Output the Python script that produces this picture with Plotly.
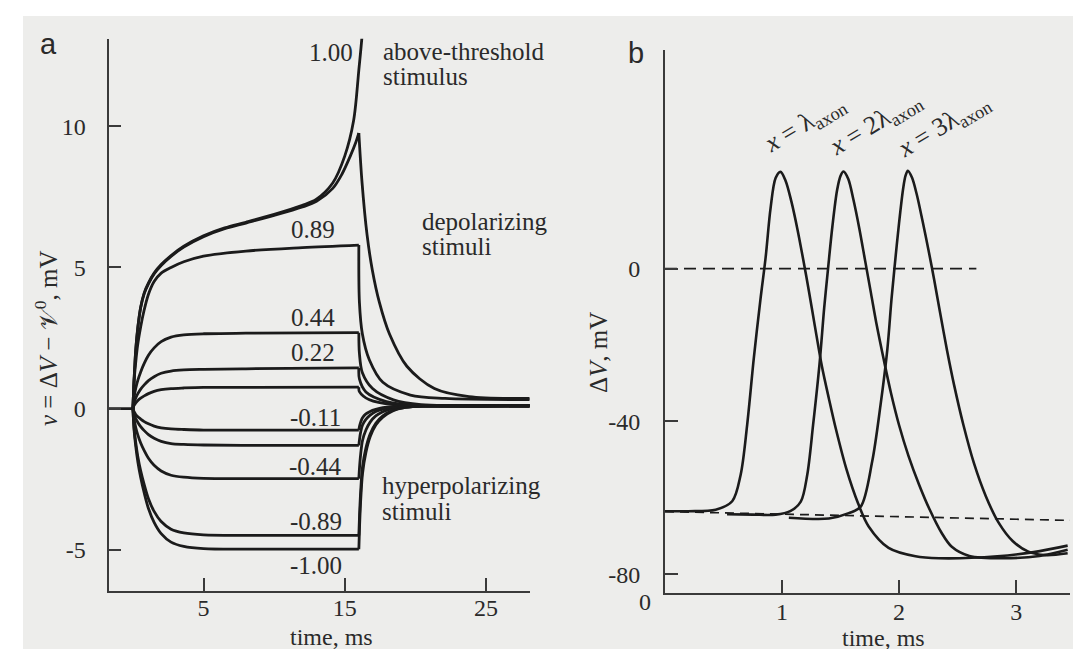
import plotly.graph_objects as go

W, H = 1081, 649

# ---------------- Panel a: membrane response to current steps ----------------
STIM_END = 16.0
baseline_t = [-1.73, 0.0]
baseline_v = [0.0, 0.0]

# common time grid (ms) used while the stimulus is on (small-signal curves)
t_on = [0, 0.08, 0.2, 0.35, 0.55, 0.8, 1.1, 1.5, 2.0, 2.7, 3.6, 5.0, 8.0, 16.0]
m100_on_v = [0, -0.75, -1.34, -1.89, -2.44, -2.99, -3.54, -4.03, -4.43, -4.73, -4.88, -4.96, -4.98, -4.98]
m089_on_v = [0, -0.67, -1.21, -1.71, -2.20, -2.69, -3.19, -3.64, -4.00, -4.27, -4.40, -4.47, -4.49, -4.49]
m044_on_v = [0, -0.37, -0.67, -0.94, -1.22, -1.49, -1.76, -2.01, -2.21, -2.36, -2.43, -2.47, -2.48, -2.48]
m022_on_v = [0, -0.20, -0.35, -0.49, -0.64, -0.78, -0.92, -1.05, -1.16, -1.24, -1.27, -1.29, -1.30, -1.30]
m011_on_v = [0, -0.11, -0.21, -0.29, -0.37, -0.46, -0.54, -0.62, -0.68, -0.72, -0.74, -0.76, -0.76, -0.76]
p011_on_v = [0, 0.11, 0.20, 0.29, 0.37, 0.45, 0.53, 0.61, 0.67, 0.71, 0.73, 0.75, 0.75, 0.76]
p022_on_v = [0, 0.21, 0.38, 0.53, 0.69, 0.84, 0.99, 1.13, 1.25, 1.33, 1.37, 1.39, 1.41, 1.44]
p044_on_v = [0, 0.40, 0.72, 1.01, 1.30, 1.60, 1.89, 2.15, 2.37, 2.53, 2.61, 2.65, 2.67, 2.69]

p089_on_t = [0, 0.08, 0.2, 0.35, 0.55, 0.8, 1.1, 1.5, 2.0, 2.7, 3.6, 5.0, 8.0, 12.0, 16.0]
p089_on_v = [0, 0.95, 1.65, 2.30, 2.90, 3.50, 4.05, 4.50, 4.80, 5.00, 5.20, 5.40, 5.58, 5.70, 5.79]

p096_on_t = [0, 0.08, 0.2, 0.35, 0.55, 0.8, 1.1, 1.5, 2.0, 2.7, 3.6, 5.0, 6.5, 8.0, 10.0, 12.0, 13.0, 14.15, 14.8, 15.4, 15.8, 16.0]
p096_on_v = [0, 0.98, 2.07, 2.87, 3.57, 4.07, 4.42, 4.77, 5.07, 5.39, 5.72, 6.09, 6.37, 6.57, 6.84, 7.14, 7.34, 7.80, 8.30, 8.95, 9.45, 9.76]

p100_t = [0, 0.08, 0.2, 0.35, 0.55, 0.8, 1.1, 1.5, 2.0, 2.7, 3.6, 5.0, 6.5, 8.0, 10.0, 12.0, 13.0, 14.15, 15.0, 15.63, 16.0, 16.26, 16.45]
p100_v = [0, 1.00, 2.10, 2.90, 3.60, 4.10, 4.45, 4.80, 5.10, 5.42, 5.75, 6.12, 6.40, 6.60, 6.88, 7.20, 7.42, 7.99, 8.94, 10.20, 12.00, 13.42, 15.50]

# after the stimulus ends
t_off_hyper = [16.0, 16.05, 16.13, 16.26, 16.5, 16.8, 17.2, 17.7, 18.4, 19.3, 20.5, 28.1]
m100_off_v = [-4.98, -4.17, -3.25, -2.30, -1.55, -1.00, -0.58, -0.30, -0.08, 0.04, 0.09, 0.10]
m089_off_v = [-4.49, -3.77, -2.93, -2.07, -1.40, -0.90, -0.52, -0.26, -0.06, 0.04, 0.09, 0.10]
m044_off_v = [-2.48, -2.07, -1.61, -1.13, -0.76, -0.48, -0.26, -0.11, 0.01, 0.07, 0.09, 0.10]
m022_off_v = [-1.30, -1.08, -0.83, -0.58, -0.38, -0.23, -0.10, -0.02, 0.05, 0.08, 0.10, 0.10]
m011_off_v = [-0.76, -0.62, -0.48, -0.32, -0.19, -0.10, -0.03, 0.03, 0.07, 0.09, 0.10, 0.10]

p096_off_t = [16.0, 16.22, 16.58, 16.95, 17.45, 18.17, 19.4, 21.35, 23.8, 28.1]
p096_off_v = [9.76, 8.05, 6.16, 4.92, 3.77, 2.64, 1.50, 0.71, 0.42, 0.36]
p089_off_t = [16.0, 16.04, 16.25, 16.74, 17.7, 19.65, 22.1, 28.1]
p089_off_v = [5.79, 3.77, 2.64, 1.73, 0.93, 0.48, 0.36, 0.32]
p044_off_t = [16.0, 16.04, 16.25, 16.97, 18.45, 20.4, 28.1]
p044_off_v = [2.69, 1.96, 1.27, 0.71, 0.31, 0.14, 0.10]
p022_off_t = [16.0, 16.04, 16.5, 17.95, 19.9, 28.1]
p022_off_v = [1.44, 1.05, 0.59, 0.25, 0.12, 0.09]
p011_off_t = [16.0, 16.04, 16.75, 18.45, 28.1]
p011_off_v = [0.76, 0.60, 0.31, 0.14, 0.09]

a_xticks = [5, 15, 25]
a_xticktext = ["5", "15", "25"]
a_yticks = [10, 5, 0, -5]
a_yticktext = ["10", "5", "0", "-5"]

# curve labels (stimulus strength) and where they sit
a_labels = ["1.00", "0.89", "0.44", "0.22", "-0.11", "-0.44", "-0.89", "-1.00"]
a_label_t = [15.76, 12.74, 12.74, 12.74, 12.93, 12.93, 12.93, 12.93]
a_label_v = [12.61, 6.34, 3.22, 1.98, -0.30, -2.05, -4.00, -5.54]

# ---------------- Panel b: propagating action potential ----------------
c1_t = [0, 0.2, 0.433, 0.574, 0.646, 0.702, 0.759, 0.817, 0.859, 0.902, 0.945, 0.987, 1.03, 1.08, 1.13,
        1.18, 1.23, 1.28, 1.34, 1.40, 1.46, 1.55, 1.65, 1.74, 1.91, 2.14, 2.34, 2.84, 3.15, 3.44]
c1_v = [-63.5, -63.5, -63.1, -60.9, -54.0, -40.9, -23.4, -7.7, 2.7, 15.8, 23.7, 25.3, 23.0, 17.5, 10.5,
        2.5, -6.0, -15.0, -25.5, -34.0, -42.0, -52.5, -61.5, -67.5, -73.1, -75.3, -75.8, -75.3, -74.2, -72.5]
c2_t = [0.53, 0.75, 0.945, 1.07, 1.16, 1.215, 1.265, 1.32, 1.36, 1.393, 1.43, 1.47, 1.50, 1.525, 1.565, 1.61,
        1.66, 1.71, 1.76, 1.81, 1.87, 1.93, 2.00, 2.08, 2.17, 2.26, 2.36, 2.45, 2.60, 2.89, 3.2, 3.44]
c2_v = [-64.3, -64.4, -64.4, -63.5, -61.0, -54.0, -41.0, -25.0, -10.3, 0.0, 11.0, 20.5, 24.3, 25.4, 23.5, 18.0,
        10.5, 2.0, -6.5, -15.0, -24.0, -32.5, -41.0, -49.0, -56.5, -63.0, -69.0, -72.8, -75.2, -75.8, -75.2, -73.6]
c3_t = [1.058, 1.40, 1.57, 1.672, 1.77, 1.84, 1.90, 1.935, 1.96, 2.00, 2.035, 2.055, 2.075, 2.11, 2.15, 2.20,
        2.25, 2.30, 2.35, 2.41, 2.47, 2.55, 2.64, 2.74, 2.85, 2.97, 3.10, 3.25, 3.44]
c3_v = [-65.2, -65.4, -64.0, -62.3, -50.5, -36.0, -21.0, -8.0, 0.0, 12.0, 21.0, 24.3, 25.6, 23.8, 19.5, 12.5,
        5.0, -3.0, -11.5, -21.5, -30.5, -41.0, -51.0, -59.5, -66.5, -71.3, -74.0, -75.0, -74.5]

zero_line_t = [0, 2.66]
zero_line_v = [0, 0]
rest_line_t = [0, 3.46]
rest_line_v = [-63.6, -65.9]

b_labels = ["<i>x</i> = λ<sub>axon</sub>", "<i>x</i> = 2λ<sub>axon</sub>", "<i>x</i> = 3λ<sub>axon</sub>"]
b_label_t = [1.20, 1.80, 2.38]
b_label_v = [37.7, 37.8, 37.4]

b_xticks = [1, 2, 3]
b_xticktext = ["1", "2", "3"]
b_yticks = [0, -40, -80]
b_yticktext = ["0", "-40", "-80"]

# ---------------- styling ----------------
INK = "#1b1b1b"
AXC = "#3a3a3a"
TXT = "#2a2a2a"
PAPER = "#ededeb"
SERIF = "Liberation Serif, DejaVu Serif, serif"
SANS = "Liberation Sans, Arial, sans-serif"


def px(x):
    return x / W


def py(y):
    return (H - y) / H


fig = go.Figure()

line_a = dict(color=INK, width=2.8, shape="spline", smoothing=0.9)
line_b = dict(color=INK, width=2.6, shape="spline", smoothing=0.9)


def add(t, v, line, xa, ya):
    fig.add_trace(go.Scatter(x=t, y=v, mode="lines", line=line, xaxis=xa, yaxis=ya,
                             hoverinfo="skip", showlegend=False))


add(baseline_t, baseline_v, dict(color=INK, width=2.8), "x", "y")
for on_v, off_v in [(m100_on_v, m100_off_v), (m089_on_v, m089_off_v), (m044_on_v, m044_off_v),
                    (m022_on_v, m022_off_v), (m011_on_v, m011_off_v)]:
    add(t_on, on_v, line_a, "x", "y")
    add(t_off_hyper, off_v, line_a, "x", "y")
for on_t, on_v, off_t, off_v in [(t_on, p011_on_v, p011_off_t, p011_off_v),
                                 (t_on, p022_on_v, p022_off_t, p022_off_v),
                                 (t_on, p044_on_v, p044_off_t, p044_off_v),
                                 (p089_on_t, p089_on_v, p089_off_t, p089_off_v),
                                 (p096_on_t, p096_on_v, p096_off_t, p096_off_v)]:
    add(on_t, on_v, line_a, "x", "y")
    add(off_t, off_v, line_a, "x", "y")
add(p100_t, p100_v, line_a, "x", "y")

add(zero_line_t, zero_line_v, dict(color=INK, width=1.7, dash="12px,7px"), "x2", "y2")
add(rest_line_t, rest_line_v, dict(color=INK, width=1.7, dash="9px,6px"), "x2", "y2")
for t, v in [(c1_t, c1_v), (c2_t, c2_v), (c3_t, c3_v)]:
    add(t, v, line_b, "x2", "y2")

axis_common = dict(showline=True, linecolor=AXC, linewidth=1.8, ticks="inside", ticklen=13,
                   tickwidth=1.8, tickcolor=AXC, showgrid=False, zeroline=False,
                   tickfont=dict(family=SERIF, size=24, color=TXT))

fig.update_layout(
    width=W, height=H, autosize=False,
    margin=dict(l=0, r=0, t=0, b=0),
    paper_bgcolor="#ffffff", plot_bgcolor="rgba(0,0,0,0)",
    showlegend=False,
    xaxis=dict(domain=[px(100.5), px(521.7)], range=[-1.73, 28.1], anchor="y",
               tickvals=a_xticks, ticktext=a_xticktext, ticklabelstandoff=-6, **axis_common),
    yaxis=dict(domain=[py(583), py(30.7)], range=[-6.46, 13.1], anchor="x",
               tickvals=a_yticks, ticktext=a_yticktext, ticklabelstandoff=16, **axis_common),
    xaxis2=dict(domain=[px(657), px(1062)], range=[0, 3.46], anchor="y2",
                tickvals=b_xticks, ticktext=b_xticktext, ticklabelstandoff=-4, **axis_common),
    yaxis2=dict(domain=[py(585), py(41.7)], range=[-84.9, 57.26], anchor="x2",
                tickvals=b_yticks, ticktext=b_yticktext, ticklabelstandoff=18, **axis_common),
    shapes=[dict(type="rect", xref="paper", yref="paper", x0=px(15), x1=px(1075), y0=0, y1=py(8),
                 fillcolor=PAPER, line=dict(width=0), layer="below")],
)

ann = []
tf = dict(family=SERIF, size=25, color=TXT)
# stimulus strength labels
for i, (lab, t, v) in enumerate(zip(a_labels, a_label_t, a_label_v)):
    ann.append(dict(x=t, y=v, xref="x", yref="y", text=lab, showarrow=False, font=tf,
                    xanchor="right" if i == 0 else "center", yanchor="middle"))
# group descriptions
for txt, t, v in [("above-threshold", 17.6, 12.65), ("stimulus", 17.6, 11.77),
                  ("depolarizing", 20.31, 6.62), ("stimuli", 20.31, 5.73),
                  ("hyperpolarizing", 17.48, -2.71), ("stimuli", 17.48, -3.66)]:
    ann.append(dict(x=t, y=v, xref="x", yref="y", text=txt, showarrow=False, font=tf,
                    xanchor="left", yanchor="middle"))
# rotated position labels in panel b
for lab, t, v in zip(b_labels, b_label_t, b_label_v):
    ann.append(dict(x=t, y=v, xref="x2", yref="y2", text=lab, showarrow=False,
                    font=dict(family=SERIF, size=26, color=TXT), textangle=-31,
                    xanchor="center", yanchor="middle"))
# axis titles
ann.append(dict(x=px(323), y=py(629), xref="paper", yref="paper", text="time, ms", showarrow=False,
                font=dict(family=SERIF, size=24, color=TXT), xanchor="center", yanchor="middle"))
ann.append(dict(x=px(875), y=py(630), xref="paper", yref="paper", text="time, ms", showarrow=False,
                font=dict(family=SERIF, size=24, color=TXT), xanchor="center", yanchor="middle"))
ann.append(dict(x=px(38), y=py(331), xref="paper", yref="paper",
                text="<i>v</i> = Δ<i>V</i> − 𝒱<sup>0</sup>, mV", showarrow=False, font=tf,
                textangle=-90, xanchor="center", yanchor="middle"))
ann.append(dict(x=px(590), y=py(345), xref="paper", yref="paper", text="Δ<i>V</i>, mV",
                showarrow=False, font=tf, textangle=-90, xanchor="center", yanchor="middle"))
# origin label of panel b time axis
ann.append(dict(x=px(637), y=py(594), xref="paper", yref="paper", text="0", showarrow=False,
                font=dict(family=SERIF, size=24, color=TXT), xanchor="center", yanchor="middle"))
# panel letters
ann.append(dict(x=px(40), y=py(36), xref="paper", yref="paper", text="a", showarrow=False,
                font=dict(family=SANS, size=29, color=TXT), xanchor="center", yanchor="middle"))
ann.append(dict(x=px(628), y=py(45), xref="paper", yref="paper", text="b", showarrow=False,
                font=dict(family=SANS, size=29, color=TXT), xanchor="center", yanchor="middle"))

fig.update_layout(annotations=ann)
fig.write_html("out.html")
